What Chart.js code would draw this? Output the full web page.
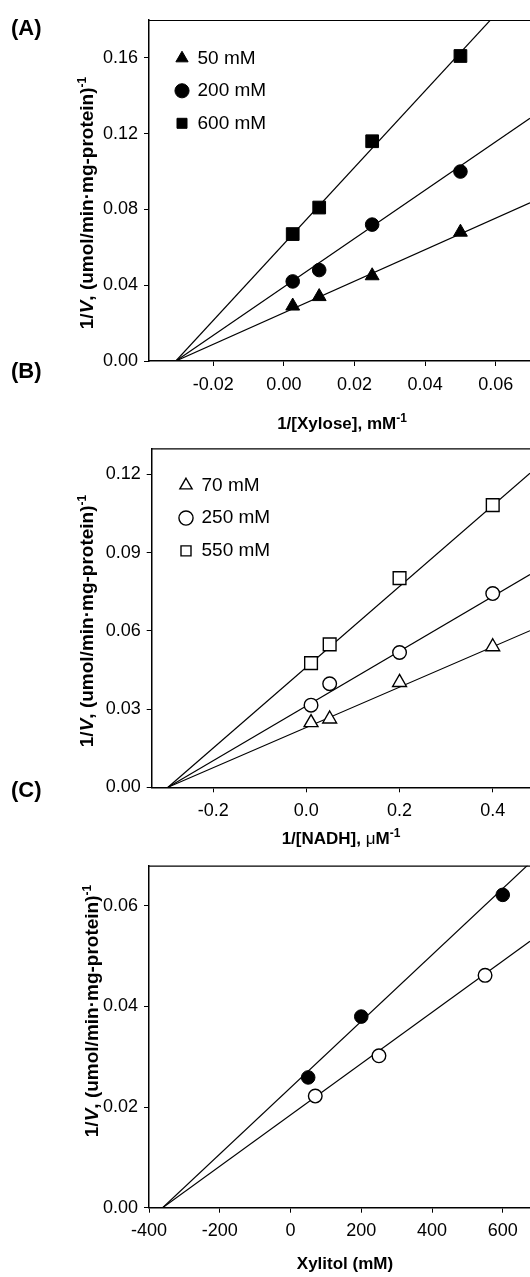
<!DOCTYPE html>
<html><head><meta charset="utf-8">
<script src="https://cdn.jsdelivr.net/npm/chart.js@4"></script>
<style>
html,body{margin:0;padding:0;background:#fff;width:530px;height:1277px;overflow:hidden;}
#wrap{position:relative;width:530px;height:1277px;font-family:"Liberation Sans",Arial,sans-serif;color:#000;}
canvas{position:absolute;left:0;}
.plabel{position:absolute;left:11px;font-weight:bold;font-size:22px;line-height:22px;transform:translateY(-50%);white-space:nowrap;}
.ytitle{position:absolute;font-weight:bold;font-size:19px;line-height:19px;white-space:nowrap;transform:translate(-50%,-50%) rotate(-90deg);}
.xtitle{position:absolute;font-weight:bold;font-size:17px;line-height:17px;white-space:nowrap;transform:translate(-50%,-50%);}
sup{font-size:12px;line-height:0;vertical-align:0;position:relative;top:-7px;}
</style></head>
<body>
<div id="wrap">
  <canvas id="cA" width="530" height="400" style="top:0"></canvas>
  <canvas id="cB" width="530" height="420" style="top:400px"></canvas>
  <canvas id="cC" width="530" height="457" style="top:820px"></canvas>

  <div class="plabel" style="top:28px">(A)</div>
  <div class="plabel" style="top:371px">(B)</div>
  <div class="plabel" style="top:790px">(C)</div>

  <div class="ytitle" style="left:86px;top:203px">1/<i>V</i>, (umol/min·mg-protein)<sup>-1</sup></div>
  <div class="ytitle" style="left:86px;top:621px">1/<i>V</i>, (umol/min·mg-protein)<sup>-1</sup></div>
  <div class="ytitle" style="left:91px;top:1011px">1/<i>V</i>, (umol/min·mg-protein)<sup>-1</sup></div>

  <div class="xtitle" style="left:342px;top:423px">1/[Xylose], mM<sup>-1</sup></div>
  <div class="xtitle" style="left:341px;top:838px">1/[NADH], <span style="font-weight:normal">μ</span>M<sup>-1</sup></div>
  <div class="xtitle" style="left:345px;top:1263px">Xylitol (mM)</div>
</div>
<script>
// ---------- Panel A : 1/V vs 1/[Xylose] ----------
const xA = [0.0025, 0.01, 0.025, 0.05];
const labelsA = ['50 mM', '200 mM', '600 mM'];
const yA50 = [0.029, 0.034, 0.045, 0.068];
const yA200 = [0.042, 0.048, 0.072, 0.100];
const yA600 = [0.067, 0.081, 0.116, 0.161];
const fitX0A = -0.0306;
const fitSlopeA = [0.833, 1.278, 2.02];
const xTicksA = [-0.02, 0, 0.02, 0.04, 0.06];
const yTicksA = [0, 0.04, 0.08, 0.12, 0.16];

// ---------- Panel B : 1/V vs 1/[NADH] ----------
const xB = [0.01, 0.05, 0.2, 0.4];
const labelsB = ['70 mM', '250 mM', '550 mM'];
const yB70 = [0.0248, 0.0262, 0.0402, 0.0539];
const yB250 = [0.0315, 0.0397, 0.0517, 0.0743];
const yB550 = [0.0476, 0.0548, 0.0802, 0.1082];
const fitX0B = -0.297;
const fitSlopeB = [0.0773, 0.105, 0.155];
const xTicksB = [-0.2, 0, 0.2, 0.4];
const yTicksB = [0, 0.03, 0.06, 0.09, 0.12];

// ---------- Panel C : 1/V vs Xylitol ----------
const xCfilled = [50, 200, 600];
const yCfilled = [0.0259, 0.038, 0.0622];
const xCopen = [70, 250, 550];
const yCopen = [0.0222, 0.0302, 0.0462];
const fitX0C = -361.5;
const fitSlopeC = [6.6e-5, 5.1e-5];
const xTicksC = [-400, -200, 0, 200, 400, 600];
const yTicksC = [0, 0.02, 0.04, 0.06];

const FONT = '"Liberation Sans", Arial, sans-serif';

function pts(xs, ys) { return xs.map((x, i) => ({x: x, y: ys[i]})); }
function fitLine(x0, slope, xEnd) { return [{x: x0, y: 0}, {x: xEnd, y: slope * (xEnd - x0)}]; }

function markerSet(label, data, style, filled, radius) {
  return {
    label: label, data: data, pointStyle: style, pointRadius: radius, pointHoverRadius: radius,
    backgroundColor: filled ? '#000' : '#fff', borderColor: '#000', borderWidth: filled ? 1 : 1.4,
    showLine: false, order: 0
  };
}
function lineSet(data) {
  return { label: '', data: data, showLine: true, pointRadius: 0, pointHoverRadius: 0,
    borderColor: '#000', borderWidth: 1.2, backgroundColor: 'transparent', fill: false, order: 1 };
}

const frameTop = {
  id: 'frameTop',
  afterDraw(chart) {
    const a = chart.chartArea, ctx = chart.ctx;
    ctx.save(); ctx.strokeStyle = '#000'; ctx.lineWidth = 1.2;
    ctx.beginPath(); ctx.moveTo(a.left, a.top + 0.5); ctx.lineTo(a.right, a.top + 0.5); ctx.stroke();
    ctx.restore();
  }
};
const legendMover = {
  id: 'legendMover',
  afterLayout(chart, args, opts) {
    const lg = chart.legend;
    if (!lg || opts.dx === undefined) return;
    const w = lg.width, h = lg.height;
    lg.left = chart.chartArea.left + opts.dx; lg.top = chart.chartArea.top + opts.dy;
    lg.right = lg.left + w; lg.bottom = lg.top + h;
  }
};

function axis(min, max, ticks, dec, fitSize, isX) {
  return {
    type: 'linear', min: min, max: max,
    afterBuildTicks: s => { s.ticks = ticks.map(v => ({value: v})); },
    afterFit: s => {
      if (isX) { s.height = fitSize; s.paddingLeft = 0; s.paddingRight = 0; }
      else { s.width = fitSize; s.paddingTop = 0; s.paddingBottom = 0; }
    },
    ticks: { callback: v => Number(v).toFixed(dec), font: {family: FONT, size: 18}, color: '#000',
      padding: isX ? 8 : 6, maxRotation: 0, autoSkip: false },
    grid: { display: true, drawOnChartArea: false, drawTicks: true, tickLength: 5, color: '#000', lineWidth: 1 },
    border: { display: true, color: '#000', width: 1.5 }
  };
}

function makeChart(id, c) {
  return new Chart(document.getElementById(id), {
    type: 'scatter',
    data: { datasets: c.datasets },
    options: {
      responsive: false, animation: false, devicePixelRatio: 1,
      layout: { autoPadding: false, padding: { top: c.padTop, left: 0, right: 0, bottom: 0 } },
      scales: {
        x: axis(c.xMin, c.xMax, c.xTicks, c.xDec, c.xH, true),
        y: axis(c.yMin, c.yMax, c.yTicks, c.yDec, c.yW, false)
      },
      plugins: {
        tooltip: { enabled: false },
        legend: {
          display: c.legend, position: 'chartArea', align: 'start',
          labels: { usePointStyle: true, boxWidth: 12, boxHeight: 10, padding: c.lpad || 13.5, color: '#000',
            font: {family: FONT, size: 19}, filter: item => item.text !== '' }
        },
        legendMover: c.legend ? { dx: c.ldx, dy: c.ldy } : {}
      }
    },
    plugins: [frameTop, legendMover]
  });
}

const xMaxA = 0.0697, xMaxB = 0.480, xMaxC = 677;

makeChart('cA', {
  padTop: 20, xH: 39, yW: 149,
  xMin: -0.0382, xMax: xMaxA, xTicks: xTicksA, xDec: 2,
  yMin: 0, yMax: 0.18, yTicks: yTicksA, yDec: 2,
  legend: true, ldx: 13.5, ldy: 15.3, lpad: 13.5,
  datasets: [
    markerSet(labelsA[0], pts(xA, yA50), 'triangle', true, 8),
    markerSet(labelsA[1], pts(xA, yA200), 'circle', true, 6.8),
    markerSet(labelsA[2], pts(xA, yA600), 'rect', true, 9),
    lineSet(fitLine(fitX0A, fitSlopeA[0], xMaxA)),
    lineSet(fitLine(fitX0A, fitSlopeA[1], xMaxA)),
    lineSet(fitLine(fitX0A, fitSlopeA[2], xMaxA))
  ]
});

makeChart('cB', {
  padTop: 48.3, xH: 32.7, yW: 151.7,
  xMin: -0.332, xMax: xMaxB, xTicks: xTicksB, xDec: 1,
  yMin: 0, yMax: 0.13, yTicks: yTicksB, yDec: 2,
  legend: true, ldx: 14.5, ldy: 13.7, lpad: 13.8,
  datasets: [
    markerSet(labelsB[0], pts(xB, yB70), 'triangle', false, 8),
    markerSet(labelsB[1], pts(xB, yB250), 'circle', false, 6.8),
    markerSet(labelsB[2], pts(xB, yB550), 'rect', false, 9),
    lineSet(fitLine(fitX0B, fitSlopeB[0], xMaxB)),
    lineSet(fitLine(fitX0B, fitSlopeB[1], xMaxB)),
    lineSet(fitLine(fitX0B, fitSlopeB[2], xMaxB))
  ]
});

makeChart('cC', {
  padTop: 45.7, xH: 69.3, yW: 149,
  xMin: -400, xMax: xMaxC, xTicks: xTicksC, xDec: 0,
  yMin: 0, yMax: 0.068, yTicks: yTicksC, yDec: 2,
  legend: false,
  datasets: [
    markerSet('filled', pts(xCfilled, yCfilled), 'circle', true, 6.8),
    markerSet('open', pts(xCopen, yCopen), 'circle', false, 6.8),
    lineSet(fitLine(fitX0C, fitSlopeC[0], xMaxC)),
    lineSet(fitLine(fitX0C, fitSlopeC[1], xMaxC))
  ]
});
</script>
</body></html>
